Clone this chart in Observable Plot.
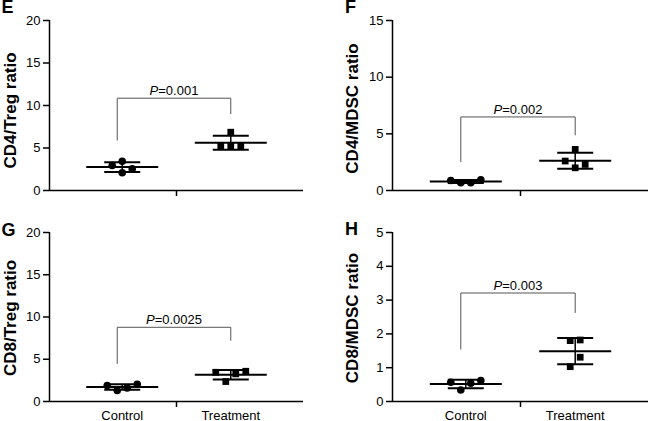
<!DOCTYPE html>
<html>
<head>
<meta charset="utf-8">
<script src="https://cdn.jsdelivr.net/npm/d3@7"></script>
<script src="https://cdn.jsdelivr.net/npm/@observablehq/plot@0.6"></script>
<style>
  html, body { margin: 0; padding: 0; background: #fff; }
  #wrap { position: relative; width: 648px; height: 421px; overflow: hidden; font-family: "Liberation Sans", Arial, sans-serif; }
  .panel { position: absolute; }
</style>
</head>
<body>
<div id="wrap"></div>
<script>
// ---- data ----
const groups = ["Control", "Treatment"];

const panelLetters = ["E", "F", "G", "H"];
const yTitles = ["CD4/Treg ratio", "CD4/MDSC ratio", "CD8/Treg ratio", "CD8/MDSC ratio"];
const yMax = [20, 15, 20, 5];
const yStep = [5, 5, 5, 1];

const controlE = [2.94, 3.45, 2.08, 2.55];
const treatmentE = [6.86, 5.2, 5.2, 5.2];
const controlF = [0.88, 0.68, 0.68, 0.94];
const treatmentF = [3.63, 2.6, 2.0, 2.3];
const controlG = [1.89, 1.3, 1.61, 2.05];
const treatmentG = [3.46, 2.36, 3.27, 3.58];
const controlH = [0.57, 0.34, 0.54, 0.62];
const treatmentH = [1.82, 1.8, 1.31, 1.03];

const pValues = ["0.001", "0.002", "0.0025", "0.003"];
const bracketTop = [10.86, 6.49, 8.78, 3.21];
const bracketLeftEnd = [5.88, 2.5, 4.45, 1.54];
const bracketRightEnd = [9.0, 4.87, 7.2, 2.62];

// ---- layout ----
const xDomain = [0.33, 2.67];
const layouts = [
  {left: 0,   top: 0,   width: 324, height: 210, mL: 49, mR: 21, mT: 20, mB: 20, showX: false, titleDx: -39, titleDy: 5, letterDx: -42, letterDy: -13},
  {left: 324, top: 0,   width: 324, height: 210, mL: 68, mR: 0,  mT: 20, mB: 20, showX: false, titleDx: -40, titleDy: 3, letterDx: -42, letterDy: -13},
  {left: 0,   top: 210, width: 324, height: 211, mL: 49, mR: 21, mT: 22, mB: 20, showX: true,  titleDx: -39, titleDy: 1, letterDx: -41, letterDy: -2},
  {left: 324, top: 210, width: 324, height: 211, mL: 68, mR: 0,  mT: 22, mB: 20, showX: true,  titleDx: -40, titleDy: 1, letterDx: -41, letterDy: -3}
];
const seriesData = [[controlE, treatmentE], [controlF, treatmentF], [controlG, treatmentG], [controlH, treatmentH]];

function dodge(values, pxPerY, step, thr) {
  const idx = values.map((v, i) => i).sort((a, b) => values[a] - values[b]);
  const off = new Array(values.length);
  const placed = [];
  for (const i of idx) {
    for (let k = 0; k < 20; k++) {
      const cand = k === 0 ? 0 : (k % 2 ? 1 : -1) * Math.ceil(k / 2) * step;
      const hit = placed.some(j => off[j] === cand && Math.abs(values[j] - values[i]) * pxPerY < thr);
      if (!hit) { off[i] = cand; placed.push(i); break; }
    }
  }
  const mid = (Math.min(...off) + Math.max(...off)) / 2;
  return off.map(o => o - mid);
}

const wrap = document.getElementById("wrap");

layouts.forEach((L, p) => {
  const plotW = L.width - L.mL - L.mR;
  const plotH = L.height - L.mT - L.mB;
  const pxX = plotW / (xDomain[1] - xDomain[0]);
  const pxY = plotH / yMax[p];

  const points = [];
  const stats = [];
  seriesData[p].forEach((vals, g) => {
    const offs = dodge(vals, pxY, 10, 11);
    vals.forEach((v, i) => points.push({group: groups[g], x: g + 1 + offs[i] / pxX, y: v}));
    const m = d3.mean(vals), s = d3.deviation(vals);
    stats.push({g: g + 1, mean: m, lo: m - s, hi: m + s});
  });

  const meanHalf = 36 / pxX, capHalf = 18 / pxX;
  const bl = 1 - 5 / pxX, br = 2;
  const bracket = [
    {x1: bl, x2: bl, y1: bracketLeftEnd[p], y2: bracketTop[p]},
    {x1: bl, x2: br, y1: bracketTop[p], y2: bracketTop[p]},
    {x1: br, x2: br, y1: bracketRightEnd[p], y2: bracketTop[p]}
  ];

  const ticks = d3.range(0, yMax[p] + 1e-9, yStep[p]);

  const marks = [
    Plot.ruleX([xDomain[0]], {y1: 0, y2: yMax[p], stroke: "#000", strokeWidth: 1.5}),
    Plot.ruleY([0], {x1: xDomain[0], x2: xDomain[1], stroke: "#000", strokeWidth: 1.5}),
    Plot.axisY({ticks, tickSize: 6, tickPadding: 3, fontSize: 13, label: null, strokeWidth: 1.5, tickFormat: d3.format("d")}),
    Plot.axisX({ticks: [1.5], tickSize: 6, tickFormat: () => "", label: null, strokeWidth: 1.5}),
    Plot.link(bracket, {x1: "x1", x2: "x2", y1: "y1", y2: "y2", stroke: "#555", strokeWidth: 1}),
    Plot.text([{x: (bl + br) / 2, y: bracketTop[p], t: "P=" + pValues[p]}], {x: "x", y: "y", text: "t", lineAnchor: "bottom", dy: -3, fontSize: 13, fill: "#000"}),
    Plot.link(stats, {x1: d => d.g - meanHalf, x2: d => d.g + meanHalf, y1: "mean", y2: "mean", stroke: "#000", strokeWidth: 2}),
    Plot.link(stats, {x1: d => d.g - capHalf, x2: d => d.g + capHalf, y1: "hi", y2: "hi", stroke: "#000", strokeWidth: 2}),
    Plot.link(stats, {x1: d => d.g - capHalf, x2: d => d.g + capHalf, y1: "lo", y2: "lo", stroke: "#000", strokeWidth: 2}),
    Plot.link(stats, {x1: "g", x2: "g", y1: "lo", y2: "hi", stroke: "#000", strokeWidth: 1.5}),
    Plot.dot(points, {x: "x", y: "y", r: 3.8, fill: "#000", stroke: "none",
      symbol: d => d.group === "Control" ? "circle" : "square"}),
    Plot.text([yTitles[p]], {frameAnchor: "left", rotate: -90, dx: L.titleDx, dy: L.titleDy, fontSize: 17, fontWeight: "bold", fill: "#000", textAnchor: "middle", lineAnchor: "middle"}),
    Plot.text([panelLetters[p]], {frameAnchor: "top-left", dx: L.letterDx, dy: L.letterDy, fontSize: 18, fontWeight: "bold", fill: "#000", textAnchor: "middle", lineAnchor: "middle"})
  ];
  if (L.showX) {
    marks.push(Plot.axisX({ticks: [1, 2], tickSize: 0, tickPadding: 9, fontSize: 13, label: null, tickFormat: d => groups[d - 1]}));
  }

  const chart = Plot.plot({
    width: L.width, height: L.height,
    marginLeft: L.mL, marginRight: L.mR, marginTop: L.mT, marginBottom: L.mB,
    x: {type: "linear", domain: xDomain},
    y: {type: "linear", domain: [0, yMax[p]]},
    symbol: {type: "ordinal", domain: ["circle", "square"], range: ["circle", "square"]},
    style: {fontFamily: "'Liberation Sans', Arial, sans-serif", color: "#000", background: "transparent", overflow: "visible"},
    marks
  });

  chart.querySelectorAll("text").forEach(t => {
    const s = t.textContent;
    if (s.startsWith("P=")) {
      t.textContent = "";
      const ns = "http://www.w3.org/2000/svg";
      const a = document.createElementNS(ns, "tspan");
      a.setAttribute("font-style", "italic");
      a.textContent = "P";
      const b = document.createElementNS(ns, "tspan");
      b.textContent = s.slice(1);
      t.appendChild(a); t.appendChild(b);
    }
  });

  const div = document.createElement("div");
  div.className = "panel";
  div.style.left = L.left + "px";
  div.style.top = L.top + "px";
  div.appendChild(chart);
  wrap.appendChild(div);
});
</script>
</body>
</html>
